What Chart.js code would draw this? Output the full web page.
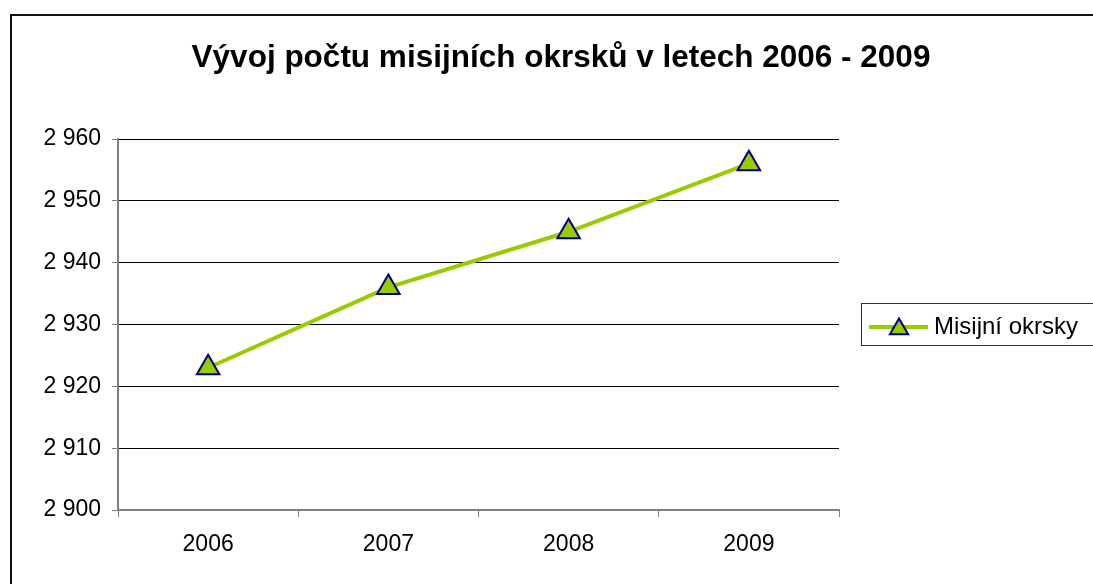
<!DOCTYPE html>
<html>
<head>
<meta charset="utf-8">
<script src="https://cdn.jsdelivr.net/npm/chart.js@4"></script>
<style>
  html, body { margin: 0; padding: 0; background: #fff; overflow: hidden; }
  #frame { position: absolute; left: 10px; top: 14px; width: 1200px; height: 700px; border: 2px solid #111; }
  #wrap { position: absolute; left: 0; top: 0; width: 1093px; height: 584px; }
</style>
</head>
<body>
<div id="frame"></div>
<div id="wrap"><canvas id="chart" width="1093" height="584"></canvas></div>
<script>
// data
const years = ['2006', '2007', '2008', '2009'];
const okrsky = [2923, 2936, 2945, 2956];
const yTicks = [2900, 2910, 2920, 2930, 2940, 2950, 2960];
const chartTitle = 'Vývoj počtu misijních okrsků v letech 2006 - 2009';

const FONT = "'Liberation Sans', Arial, sans-serif";
const green = '#99CC00';
const navy = '#000080';

// format 2960 -> "2 960"
function fmt(v) {
  return String(v).replace(/\B(?=(\d{3})+(?!\d))/g, ' ');
}

function triangle(ctx, cx, cy, r) {
  ctx.beginPath();
  for (let i = 0; i < 3; i++) {
    const a = i * 2 * Math.PI / 3;
    const px = cx + Math.sin(a) * r;
    const py = cy - Math.cos(a) * r;
    if (i === 0) ctx.moveTo(px, py); else ctx.lineTo(px, py);
  }
  ctx.closePath();
}

// title centred over the whole sheet, not just the plot
const sheetTitle = {
  id: 'sheetTitle',
  afterDraw(chart) {
    const ctx = chart.ctx;
    ctx.save();
    ctx.fillStyle = '#000';
    ctx.font = 'bold 31.5px ' + FONT;
    ctx.textAlign = 'center';
    ctx.textBaseline = 'middle';
    ctx.fillText(chartTitle, 561, 58);
    ctx.restore();
  }
};

// legend drawn with a box like the original, line + marker + label
const boxLegend = {
  id: 'boxLegend',
  afterDraw(chart) {
    const ctx = chart.ctx;
    const ds = chart.data.datasets[0];
    const y = 327;
    ctx.save();
    ctx.strokeStyle = '#333';
    ctx.lineWidth = 1;
    ctx.strokeRect(861.5, 303.5, 260, 42);
    ctx.strokeStyle = ds.borderColor;
    ctx.lineWidth = 4;
    ctx.beginPath();
    ctx.moveTo(869, y);
    ctx.lineTo(928, y);
    ctx.stroke();
    ctx.fillStyle = ds.pointBackgroundColor;
    ctx.strokeStyle = ds.pointBorderColor;
    ctx.lineWidth = 2;
    triangle(ctx, 899, 329, 10.5);
    ctx.fill();
    ctx.stroke();
    ctx.fillStyle = '#000';
    ctx.font = '24px ' + FONT;
    ctx.textBaseline = 'middle';
    ctx.textAlign = 'left';
    ctx.fillText(ds.label, 934, y);
    ctx.restore();
  }
};

new Chart(document.getElementById('chart'), {
  type: 'line',
  data: {
    labels: years,
    datasets: [{
      label: 'Misijní okrsky',
      data: okrsky,
      borderColor: green,
      borderWidth: 4,
      pointStyle: 'triangle',
      pointRadius: 13,
      pointHoverRadius: 13,
      pointBackgroundColor: green,
      pointBorderColor: navy,
      pointBorderWidth: 2,
      tension: 0
    }]
  },
  options: {
    responsive: false,
    animation: false,
    layout: { padding: { left: 0, right: 254, top: 139, bottom: 0 } },
    plugins: {
      legend: { display: false },
      tooltip: { enabled: false },
      title: { display: false }
    },
    scales: {
      x: {
        offset: true,
        afterFit(scale) { scale.height = 74; },
        grid: {
          offset: true,
          drawOnChartArea: false,
          drawTicks: true,
          tickLength: 7,
          color: '#808080',
          lineWidth: 1
        },
        border: { color: '#808080', width: 2 },
        ticks: {
          color: '#000',
          padding: 14,
          font: { family: FONT, size: 23 }
        }
      },
      y: {
        min: yTicks[0],
        max: yTicks[yTicks.length - 1],
        afterFit(scale) { scale.width = 118; },
        afterBuildTicks(scale) { scale.ticks = yTicks.map(v => ({ value: v })); },
        grid: {
          color: '#000',
          lineWidth: 1,
          tickLength: 6,
          tickColor: '#808080'
        },
        border: { color: '#808080', width: 2 },
        ticks: {
          color: '#000',
          padding: 11,
          font: { family: FONT, size: 23 },
          callback: v => fmt(v)
        }
      }
    }
  },
  plugins: [sheetTitle, boxLegend]
});
</script>
</body>
</html>
